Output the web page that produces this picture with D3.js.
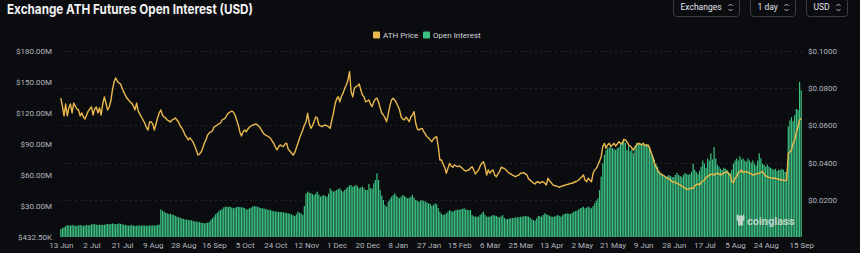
<!DOCTYPE html>
<html>
<head>
<meta charset="utf-8">
<script src="https://cdn.jsdelivr.net/npm/d3@7"></script>
<style>
  html, body { margin: 0; padding: 0; background: #0b0c10; }
  svg { display: block; font-family: Roboto, "Noto Sans", sans-serif; }
</style>
</head>
<body>
<div id="chart"></div>
<script>
// first and last day of the daily series
const firstDay = Date.UTC(2024, 5, 13);
const lastDay = Date.UTC(2025, 8, 15);

// open interest, in millions USD (one value per day)
const openInterest = [
  7.5,8.5,9.5,10.5,11.6,11.2,11,11.6,11.2,11,
  10.8,11.2,11.6,11,10.8,11.2,11.6,11.3,11.6,12,
  12.6,12.3,12,11.6,11.8,12,11.6,11.8,12.3,12.6,
  12.3,12.6,13.2,12.6,12.3,12.6,13.2,12.8,12.3,12,
  11.6,11.3,11,11.3,11.6,11,10.8,11,11.3,11,
  11,11.3,11,10.8,11,11.3,11,11.3,11,11.3,
  11.6,12,26.8,25.5,24.5,23.5,22.8,22.2,22.5,21.8,
  21.3,20.5,19.7,19.2,18.6,18.1,17.5,17,16.8,16.5,
  16.5,16,15.5,15.2,14.8,14.8,14.3,13.9,13.5,13.2,
  13.5,13.9,14.5,16.5,18,19.7,22,23.5,25,26.1,
  27,28.7,29.3,29.3,29,29.3,28.5,27.8,28.2,29,
  29.3,29,28.7,28.5,28,
  26.5,27,27.8,28.5,29.5,30,29.5,29.3,28.5,28,
  27.8,27.5,27,26.5,26.3,26.1,25.5,25,24.8,24.5,
  24.5,24.2,24,23.9,23.5,23.2,22.9,22.5,22,21,
  20.3,22,24.5,23.5,22.9,21.3,30,42,43.9,43,
  42.3,41.5,40.7,42,43.9,41,39,40,40.7,39.5,
  39,42,47.1,45,43.9,44.5,45.5,46.5,47.1,45,
  43.9,45.5,47.1,48.5,50.3,50,48.7,49.5,50.3,49,
  47.1,48,48.7,47,45.5,45.5,51.3,47.1,47.1,52,
  55.2,61.6,55.2,45.5,40,35.8,31,29.3,34.2,36.5,
  39,40.5,42.3,40,38.5,37.4,39,40.7,39.5,38.5,
  37.4,38,39,40.7,38,35.8,35,34.2,35,35.8,
  35,34.2,33.5,32.6,32,30,
  31,32.6,31.5,28,24.5,22.5,21.3,22,22.9,24.5,
  26.1,25,24.5,25.5,26.1,26.3,26.5,26.8,27.3,27.8,
  26.8,26.1,26.1,26.1,21.3,20,19.7,19.7,19.7,21.5,
  22.9,24.5,21.5,19.7,19.7,19.7,20.5,21.3,20.8,20.3,
  19.5,19,20,21.3,18.5,17.1,17.5,17.8,18.1,18.4,
  18.7,19,19,19.3,19.5,19.7,20,20.3,20,19.7,
  18.5,17.1,16.5,15.8,18,20.3,20,19.7,21.3,22.9,
  22,21.3,20.5,19.7,19.7,19.7,20.5,21.3,20.5,19.7,
  21,22.3,22.6,22.9,22.6,22.3,23.4,24.5,25,25.5,
  26.6,27.8,28.5,29.3,27.8,28.5,29.3,28.5,27.8,30,
  32.6,35,37.4,45.5,58.4,71.3,79.4,84.2,85.9,86.5,
  86.8,86,85,84.2,85.9,87,
  90,92,94,91,84,88,83,85,81,88,
  91,90,91,90,91,89,90,89,87,83,
  78,75,71,68,64,62,61,60,58,59,
  60,59,58,58,60,62,60,59,58,60,
  62,61,60,61,63,71,65,63,61,64,
  68,74,71,67,76,74,81,75,87,76,
  70,68,66,65,67,66,65,63,62,65,
  71,74,76,74,78,75,76,74,73,76,
  74,72,74,71,69,74,81,76,71,70,
  68,70,68,67,66,65,66,64,65,65,
  66,65,63,63,107,113,116,112,118,124,
  123,150,142
];

// ATH price, USD (one value per day)
const athPrice = [
  .0747,.0704,.0651,.0715,.0651,.0694,.0715,.0667,.0720,.0704,
  .0688,.0683,.0651,.0667,.0645,.0634,.0656,.0677,.0688,.0699,
  .0656,.0688,.0699,.0667,.0694,.0656,.0715,.0753,.0720,.0683,
  .0699,.0731,.0790,.0833,.0855,.0839,.0828,.0823,.0801,.0780,
  .0763,.0747,.0737,.0726,.0720,.0704,.0683,.0720,.0677,.0661,
  .0645,.0629,.0613,.0591,.0575,.0618,.0618,.0608,.0575,.0608,
  .0640,.0667,.0683,.0656,.0645,.0640,.0629,.0624,.0618,.0629,
  .0634,.0640,.0629,.0618,.0597,.0586,.0570,.0548,.0538,.0522,
  .0532,.0522,.0511,.0489,.0468,.0441,.0446,.0457,.0479,.0505,
  .0522,.0548,.0559,.0565,.0570,.0591,.0597,.0602,.0608,.0613,
  .0629,.0634,.0640,.0656,.0667,.0672,.0677,.0672,.0656,.0629,
  .0602,.0565,.0543,.0565,.0575,
  .0566,.0581,.0591,.0597,.0602,.0605,.0608,.0602,.0593,.0581,
  .0565,.0554,.0548,.0543,.0538,.0531,.0516,.0504,.0484,.0468,
  .0484,.0495,.0489,.0486,.0500,.0504,.0472,.0462,.0452,.0441,
  .0453,.0479,.0504,.0531,.0554,.0575,.0602,.0618,.0665,.0613,
  .0584,.0597,.0620,.0645,.0640,.0602,.0597,.0593,.0600,.0602,
  .0597,.0593,.0584,.0629,.0665,.0715,.0742,.0754,.0727,.0758,
  .0773,.0799,.0817,.0844,.0889,.0781,.0754,.0801,.0808,.0812,
  .0823,.0790,.0763,.0753,.0727,.0731,.0737,.0715,.0701,.0727,
  .0742,.0746,.0726,.0694,.0665,.0656,.0640,.0620,.0661,.0704,
  .0737,.0746,.0737,.0722,.0704,.0683,.0645,.0634,.0629,.0645,
  .0634,.0620,.0645,.0656,.0674,.0613,.0581,.0575,.0581,.0584,
  .0566,.0554,.0539,.0532,.0522,.0512,
  .0527,.0535,.0539,.0486,.0414,.0414,.0392,.0374,.0343,.0369,
  .0396,.0382,.0375,.0387,.0382,.0378,.0382,.0376,.0369,.0360,
  .0355,.0358,.0360,.0371,.0378,.0360,.0339,.0350,.0360,.0382,
  .0396,.0405,.0378,.0333,.0360,.0343,.0355,.0360,.0333,.0324,
  .0339,.0351,.0375,.0371,.0369,.0360,.0351,.0343,.0339,.0333,
  .0328,.0324,.0331,.0333,.0343,.0344,.0346,.0339,.0333,.0312,
  .0306,.0297,.0290,.0285,.0296,.0297,.0289,.0296,.0297,.0290,
  .0280,.0316,.0301,.0293,.0280,.0277,.0274,.0272,.0267,.0272,
  .0274,.0277,.0280,.0282,.0285,.0288,.0289,.0293,.0297,.0301,
  .0306,.0315,.0324,.0333,.0306,.0297,.0316,.0306,.0297,.0343,
  .0360,.0369,.0387,.0409,.0432,.0486,.0504,.0477,.0495,.0504,
  .0486,.0495,.0504,.0489,.0500,.0512,.0504,
  .0500,.0525,.0522,.0511,.0495,.0489,.0479,.0468,.0484,.0495,
  .0504,.0500,.0495,.0504,.0495,.0489,.0495,.0479,.0452,.0430,
  .0398,.0376,.0360,.0344,.0339,.0333,.0328,.0321,.0317,.0312,
  .0306,.0297,.0296,.0292,.0288,.0285,.0280,.0274,.0269,.0262,
  .0258,.0257,.0261,.0262,.0262,.0274,.0282,.0285,.0280,.0293,
  .0301,.0306,.0320,.0324,.0333,.0336,.0339,.0333,.0339,.0343,
  .0339,.0333,.0339,.0343,.0347,.0351,.0339,.0333,.0297,.0292,
  .0317,.0324,.0347,.0351,.0360,.0346,.0350,.0351,.0347,.0343,
  .0339,.0333,.0336,.0339,.0341,.0343,.0347,.0351,.0339,.0328,
  .0324,.0321,.0318,.0316,.0316,.0316,.0312,.0310,.0309,.0306,
  .0305,.0303,.0306,.0450,.0457,.0468,.0505,.0522,.0565,.0591,
  .0629,.0638
];

// x tick labels (day shown under the axis)
const xTickDays = [
  "2024-06-13","2024-07-02","2024-07-21","2024-08-09","2024-08-28","2024-09-16",
  "2024-10-05","2024-10-24","2024-11-12","2024-12-01","2024-12-20","2025-01-08",
  "2025-01-27","2025-02-15","2025-03-06","2025-03-25","2025-04-13","2025-05-02",
  "2025-05-21","2025-06-09","2025-06-28","2025-07-17","2025-08-05","2025-08-24",
  "2025-09-15"
];
const leftTicks = [0.4325, 30, 60, 90, 120, 150, 180];   // millions
const rightTicks = [0.02, 0.04, 0.06, 0.08, 0.1];

const W = 860, H = 253;
const plot = { left: 60, right: 802, top: 51, bottom: 237 };
const GREEN = "#3cc383", GOLD = "#eab84c";

const days = d3.utcDay.range(firstDay, d3.utcDay.offset(lastDay, 1));
const rows = days.map((d, i) => ({ date: d, oi: openInterest[i], price: athPrice[i] }));

const svg = d3.select("#chart").append("svg")
  .attr("width", W).attr("height", H);

svg.append("rect").attr("width", W).attr("height", H).attr("fill", "#0b0c10");

// scales
const x = d3.scaleUtc()
  .domain([firstDay, d3.utcDay.offset(lastDay, 1)])
  .range([plot.left, plot.right]);
const band = x(d3.utcDay.offset(firstDay, 1)) - x(firstDay);
const cx = d => x(d) + band / 2;
const yL = d3.scaleLinear().domain([0, 180]).range([plot.bottom, plot.top]);
const yR = d3.scaleLinear().domain([0, 0.1]).range([plot.bottom, plot.top]);

// grid (follows the price axis)
svg.append("g").selectAll("line").data(rightTicks).join("line")
  .attr("x1", plot.left).attr("x2", plot.right)
  .attr("y1", d => Math.round(yR(d)) + 0.5).attr("y2", d => Math.round(yR(d)) + 0.5)
  .attr("stroke", "#ffffff").attr("stroke-opacity", 0.1)
  .attr("stroke-dasharray", "2,3");

// open interest bars
svg.append("g").selectAll("rect").data(rows).join("rect")
  .attr("x", d => cx(d.date) - band * 0.37)
  .attr("width", band * 0.74)
  .attr("y", d => yL(d.oi))
  .attr("height", d => plot.bottom - yL(d.oi))
  .attr("fill", GREEN);

// watermark
const wm = svg.append("g").attr("opacity", 0.75).attr("fill", "#e8e8e8");
wm.append("path")
  .attr("d", "M737,214 l2,2 l1.5,-1 l1.5,1 l2,-2 l0.5,4 a4,4 0 0 1 -1.5,3.5 l0,4 l-5,0 l0,-4 a4,4 0 0 1 -1.5,-3.5 z");
wm.append("text").attr("x", 747).attr("y", 224.5)
  .attr("font-size", 11).attr("font-weight", 700).text("coinglass");

// price line
svg.append("path").datum(rows)
  .attr("fill", "none").attr("stroke", GOLD).attr("stroke-width", 1.4)
  .attr("stroke-linejoin", "round")
  .attr("d", d3.line().x(d => cx(d.date)).y(d => yR(d.price)));

// axes
const fmtM = v => v < 1 ? `$${(v * 1000).toFixed(2)}K` : `$${v.toFixed(2)}M`;
const gl = svg.append("g").attr("transform", `translate(${plot.left},0)`)
  .call(d3.axisLeft(yL).tickValues(leftTicks).tickFormat(fmtM).tickSize(0).tickPadding(8));
const gr = svg.append("g").attr("transform", `translate(${plot.right},0)`)
  .call(d3.axisRight(yR).tickValues(rightTicks).tickFormat(v => "$" + v.toFixed(4)).tickSize(0).tickPadding(6));
const parse = d3.utcParse("%Y-%m-%d");
const gx = svg.append("g").attr("transform", `translate(0,${plot.bottom})`)
  .call(d3.axisBottom(d3.scaleLinear().range([0, W]).domain([0, W]))
    .tickValues(xTickDays.map(s => cx(parse(s))))
    .tickFormat((v, i) => d3.utcFormat("%-d %b")(parse(xTickDays[i])))
    .tickSize(0).tickPadding(5));
[gl, gr, gx].forEach(g => {
  g.select(".domain").remove();
  g.selectAll("text").attr("fill", "#b4b7bd").attr("font-size", 8)
    .attr("font-family", "Roboto, sans-serif");
});

// title
svg.append("text").attr("x", 7).attr("y", 13.5)
  .attr("fill", "#f2f2f2").attr("font-size", 13.5).attr("font-weight", 700)
  .attr("font-family", "Inter, Roboto, sans-serif")
  .attr("textLength", 246).attr("lengthAdjust", "spacingAndGlyphs")
  .text("Exchange ATH Futures Open Interest (USD)");

// legend
const legend = [
  { name: "ATH Price", color: GOLD, x: 373 },
  { name: "Open Interest", color: GREEN, x: 423 }
];
const lg = svg.append("g").selectAll("g").data(legend).join("g")
  .attr("transform", d => `translate(${d.x},31.5)`);
lg.append("rect").attr("width", 7).attr("height", 7).attr("rx", 1).attr("fill", d => d.color);
lg.append("text").attr("x", 10).attr("y", 6.5).attr("font-size", 8)
  .attr("fill", "#d4d6da").text(d => d.name);

// top-right selectors
const controls = [
  { label: "Exchanges", x: 673, w: 66 },
  { label: "1 day", x: 750, w: 45 },
  { label: "USD", x: 806, w: 41 }
];
const cg = svg.append("g").selectAll("g").data(controls).join("g")
  .attr("transform", d => `translate(${d.x + 0.5},-1.5)`);
cg.append("rect").attr("width", d => d.w).attr("height", 18).attr("rx", 3)
  .attr("fill", "#0b0c10").attr("stroke", "#3b3e45");
cg.append("text").attr("x", 7).attr("y", 11.5).attr("font-size", 8.5)
  .attr("fill", "#e4e5e8").text(d => d.label);
cg.append("path")
  .attr("d", d => { const c = d.w - 9; return `M${c - 2},7.5 L${c},5.5 L${c + 2},7.5 M${c - 2},10.5 L${c},12.5 L${c + 2},10.5`; })
  .attr("fill", "none").attr("stroke", "#c9cbd0").attr("stroke-width", 0.9);
</script>
</body>
</html>
